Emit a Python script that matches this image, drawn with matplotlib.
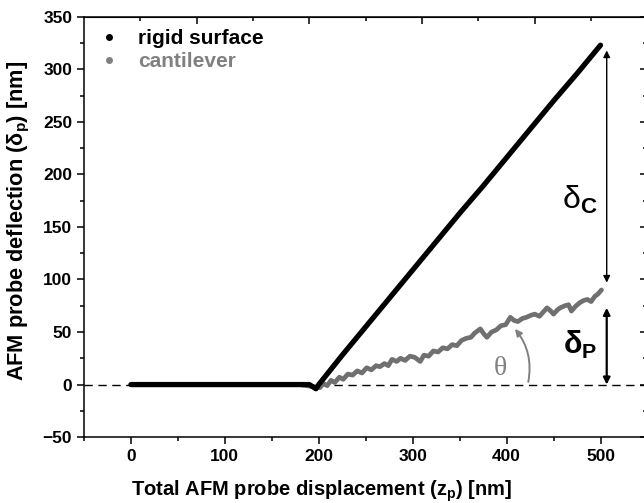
import matplotlib.pyplot as plt
from matplotlib.patches import FancyArrowPatch
from matplotlib.ticker import MultipleLocator, FixedLocator, NullFormatter

plt.rcParams['font.family'] = ['Liberation Sans', 'DejaVu Sans']
plt.rcParams['mathtext.fontset'] = 'custom'
plt.rcParams['mathtext.rm'] = 'Liberation Sans'
plt.rcParams['mathtext.bf'] = 'Liberation Sans:bold'

# rigid surface curve
rigid_x = [0, 50, 100, 150, 190, 197, 200, 225, 250, 275, 300, 325, 350, 375,
           400, 425, 450, 475, 500]
rigid_y = [0, 0, 0, 0, 0, -4, 0, 28, 55, 82, 109, 136, 163, 189,
           216, 243, 270, 296, 323]

# cantilever curve
cant_x = [60, 120, 180, 201, 205, 209, 213, 217, 222, 226, 231, 236, 241, 246,
          251, 256, 261, 265, 270, 274, 278, 283, 287, 292, 297, 302, 308, 312,
          317, 322, 327, 332, 337, 342, 347, 352, 357, 362, 366, 372, 376, 379,
          384, 389, 394, 399, 404, 408, 412, 417, 421, 426, 430, 435, 439, 443,
          447, 450, 454, 457, 462, 466, 469, 474, 478, 482, 486, 490, 494, 497, 501]
cant_y = [0, 0, 0, -3, 1, -1, 4, 2, 7, 5, 10, 9, 13, 11,
          16, 14, 18, 17, 20, 18, 24, 22, 25, 23, 27, 26, 22, 28,
          27, 32, 31, 35, 34, 38, 37, 42, 44, 45, 49, 53, 48, 45,
          50, 52, 56, 57, 64, 61, 60, 63, 64, 66, 67, 65, 69, 73,
          70, 67, 71, 73, 75, 76, 70, 75, 78, 80, 81, 79, 84, 86, 90]

fig = plt.figure(figsize=(6.44, 5.03), dpi=100)
ax = fig.add_axes([0.1304, 0.131, 0.875, 0.8356])

ax.axhline(0, color='black', lw=1.0, ls='--', dashes=(6, 4), zorder=1)
ax.plot(cant_x, cant_y, color='#707070', lw=3.4, solid_capstyle='round',
        solid_joinstyle='round', zorder=2)
ax.plot(rigid_x, rigid_y, color='black', lw=3.8, solid_capstyle='round', zorder=3)

# legend handles
h1, = ax.plot([], [], 'o', color='black', ms=4, label='rigid surface')
h2, = ax.plot([], [], 'o', color='#808080', ms=4, label='cantilever')
leg = ax.legend(handles=[h1, h2], loc='upper left', frameon=False,
                prop={'weight': 'bold', 'size': 15}, handletextpad=0.8,
                labelspacing=0.2, borderaxespad=0.2, handlelength=1.2)
leg.get_texts()[1].set_color('#808080')

# deflection arrows
ax.annotate('', xy=(506.6, 318), xytext=(506.6, 97),
            arrowprops=dict(arrowstyle='<|-|>', color='black', lw=1.0,
                            mutation_scale=10, shrinkA=0, shrinkB=0))
ax.annotate('', xy=(506.6, 73), xytext=(506.6, 0),
            arrowprops=dict(arrowstyle='<|-|>', color='black', lw=1.6,
                            mutation_scale=10, shrinkA=0, shrinkB=0))
ax.text(478, 176, r'δ$_\mathbf{C}$', fontsize=23, ha='center', va='center')
ax.text(478, 38, r'δ$_\mathbf{P}$', fontsize=22, ha='center', va='center',
        fontweight='bold')

# angle
arc = FancyArrowPatch((422.5, 0), (407, 55), connectionstyle='arc3,rad=0.25',
                      arrowstyle='-|>', mutation_scale=10, color='#808080', lw=1.4)
ax.add_patch(arc)
ax.text(393, 15, 'θ', fontsize=20, color='#808080', ha='center', va='center',
        family='Liberation Serif')

ax.set_xlim(-50, 550)
ax.set_ylim(-50, 350)
ax.xaxis.set_major_locator(MultipleLocator(100))
ax.xaxis.set_minor_locator(MultipleLocator(50))
ax.yaxis.set_major_locator(MultipleLocator(50))
ax.yaxis.set_minor_locator(MultipleLocator(25))
ax.set_xticks([0, 100, 200, 300, 400, 500])
ax.tick_params(which='both', direction='out', width=1.1, labelsize=12.5)
ax.tick_params(which='major', length=5)
ax.tick_params(which='minor', length=3)
for lab in ax.get_xticklabels() + ax.get_yticklabels():
    lab.set_fontweight('bold')
for s in ax.spines.values():
    s.set_linewidth(1.1)

top = ax.secondary_xaxis('top')
top.xaxis.set_major_locator(FixedLocator([70, 190, 310, 430]))
top.xaxis.set_minor_locator(FixedLocator([10, 130, 250, 370, 490]))
top.xaxis.set_major_formatter(NullFormatter())
top.tick_params(which='both', direction='in', width=1.1)
top.tick_params(which='major', length=5)
top.tick_params(which='minor', length=3)

right = ax.secondary_yaxis('right')
right.yaxis.set_major_locator(MultipleLocator(50))
right.yaxis.set_minor_locator(MultipleLocator(25))
right.yaxis.set_major_formatter(NullFormatter())
right.tick_params(which='both', direction='in', width=1.1)
right.tick_params(which='major', length=5)
right.tick_params(which='minor', length=3)

ax.set_xlabel(r'Total AFM probe displacement (z$_\mathbf{p}$) [nm]',
              fontsize=14.5, fontweight='bold')
ax.set_ylabel(r'AFM probe deflection (δ$_\mathbf{p}$) [nm]',
              fontsize=15.7, fontweight='bold')
ax.xaxis.set_label_coords(0.422, -0.098)
ax.yaxis.set_label_coords(-0.093, 0.514)

fig.savefig('out.png', dpi=100)
